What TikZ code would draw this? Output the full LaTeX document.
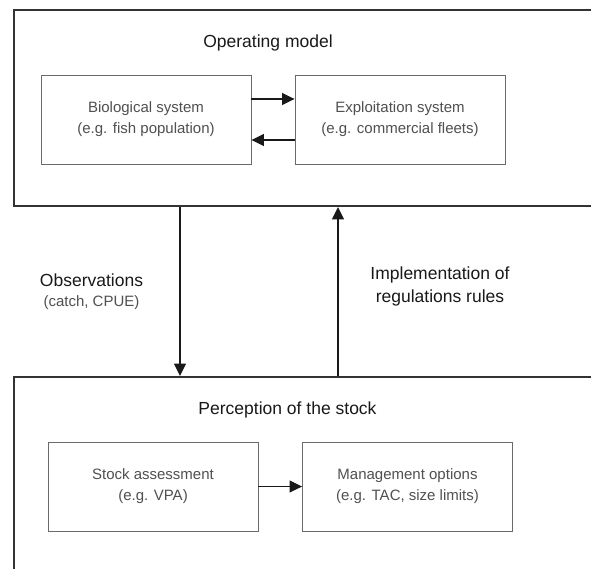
\documentclass[tikz,border=0pt]{standalone}
\usepackage{fontspec}
\setmainfont{Liberation Sans}
\usetikzlibrary{arrows.meta,calc}
\definecolor{txtgray}{HTML}{505050}
\definecolor{boxgray}{HTML}{6A6A6A}
\definecolor{outerline}{HTML}{333333}
\begin{document}
\begin{tikzpicture}[x=1pt,y=-1pt,
  outerbox/.style={draw=outerline,line width=2pt,anchor=north west,inner sep=0pt},
  innerbox/.style={draw=boxgray,line width=0.9pt,minimum width=210pt,minimum height=89pt,
    align=center,font=\fontsize{15}{21}\selectfont,text=txtgray,inner sep=0pt},
  titletext/.style={font=\fontsize{17.5}{23}\selectfont,text=black!90,align=center,inner sep=0pt},
  subtext/.style={font=\fontsize{15}{21}\selectfont,text=txtgray,inner sep=0pt},
  arr/.style={draw=black!90,line width=1.3pt,-{Triangle[length=12.5pt,width=12pt]}}]
\useasboundingbox (0,0) rectangle (591,569);
\clip (0,0) rectangle (591,569);
\fill[white] (0,0) rectangle (591,569);
% outer boxes (extend past the picture edges)
\node[outerbox,minimum width=620pt,minimum height=195.5pt] (om) at (12.5,9.5) {};
\node[outerbox,minimum width=620pt,minimum height=250pt] (ps) at (12.5,376) {};
% titles
\node[titletext] (omt) at (268,43) {Operating model};
\node[titletext] (pst) at (287.5,410) {Perception of the stock};
% inner boxes
\node[innerbox] (bio) at (146,119.5) {Biological system\\(e.g. fish population)};
\node[innerbox] (exp) at (400,119.5) {Exploitation system\\(e.g. commercial fleets)};
\node[innerbox] (sa) at (153,486.5) {Stock assessment\\(e.g. VPA)};
\node[innerbox] (mo) at (407.5,486.5) {Management options\\(e.g. TAC, size limits)};
% inner arrows
\draw[arr] ([yshift=20.5pt]bio.east) -- ([yshift=20.5pt]exp.west);
\draw[arr] ([yshift=-20.5pt]exp.west) -- ([yshift=-20.5pt]bio.east);
\draw[arr] (sa.east) -- (mo.west);
% vertical arrows
\coordinate (xdown) at (180,0);
\coordinate (xup) at (338,0);
\draw[arr] (om.south -| xdown) -- (ps.north -| xdown);
\draw[arr] (ps.north -| xup) -- (om.south -| xup);
% labels
\node[titletext] (obs) at (91.5,280) {Observations};
\node[subtext] (obs2) at (91.5,303) {(catch, CPUE)};
\node[titletext] (impl) at (440,286.5) {Implementation of\\regulations rules};
\end{tikzpicture}
\end{document}
